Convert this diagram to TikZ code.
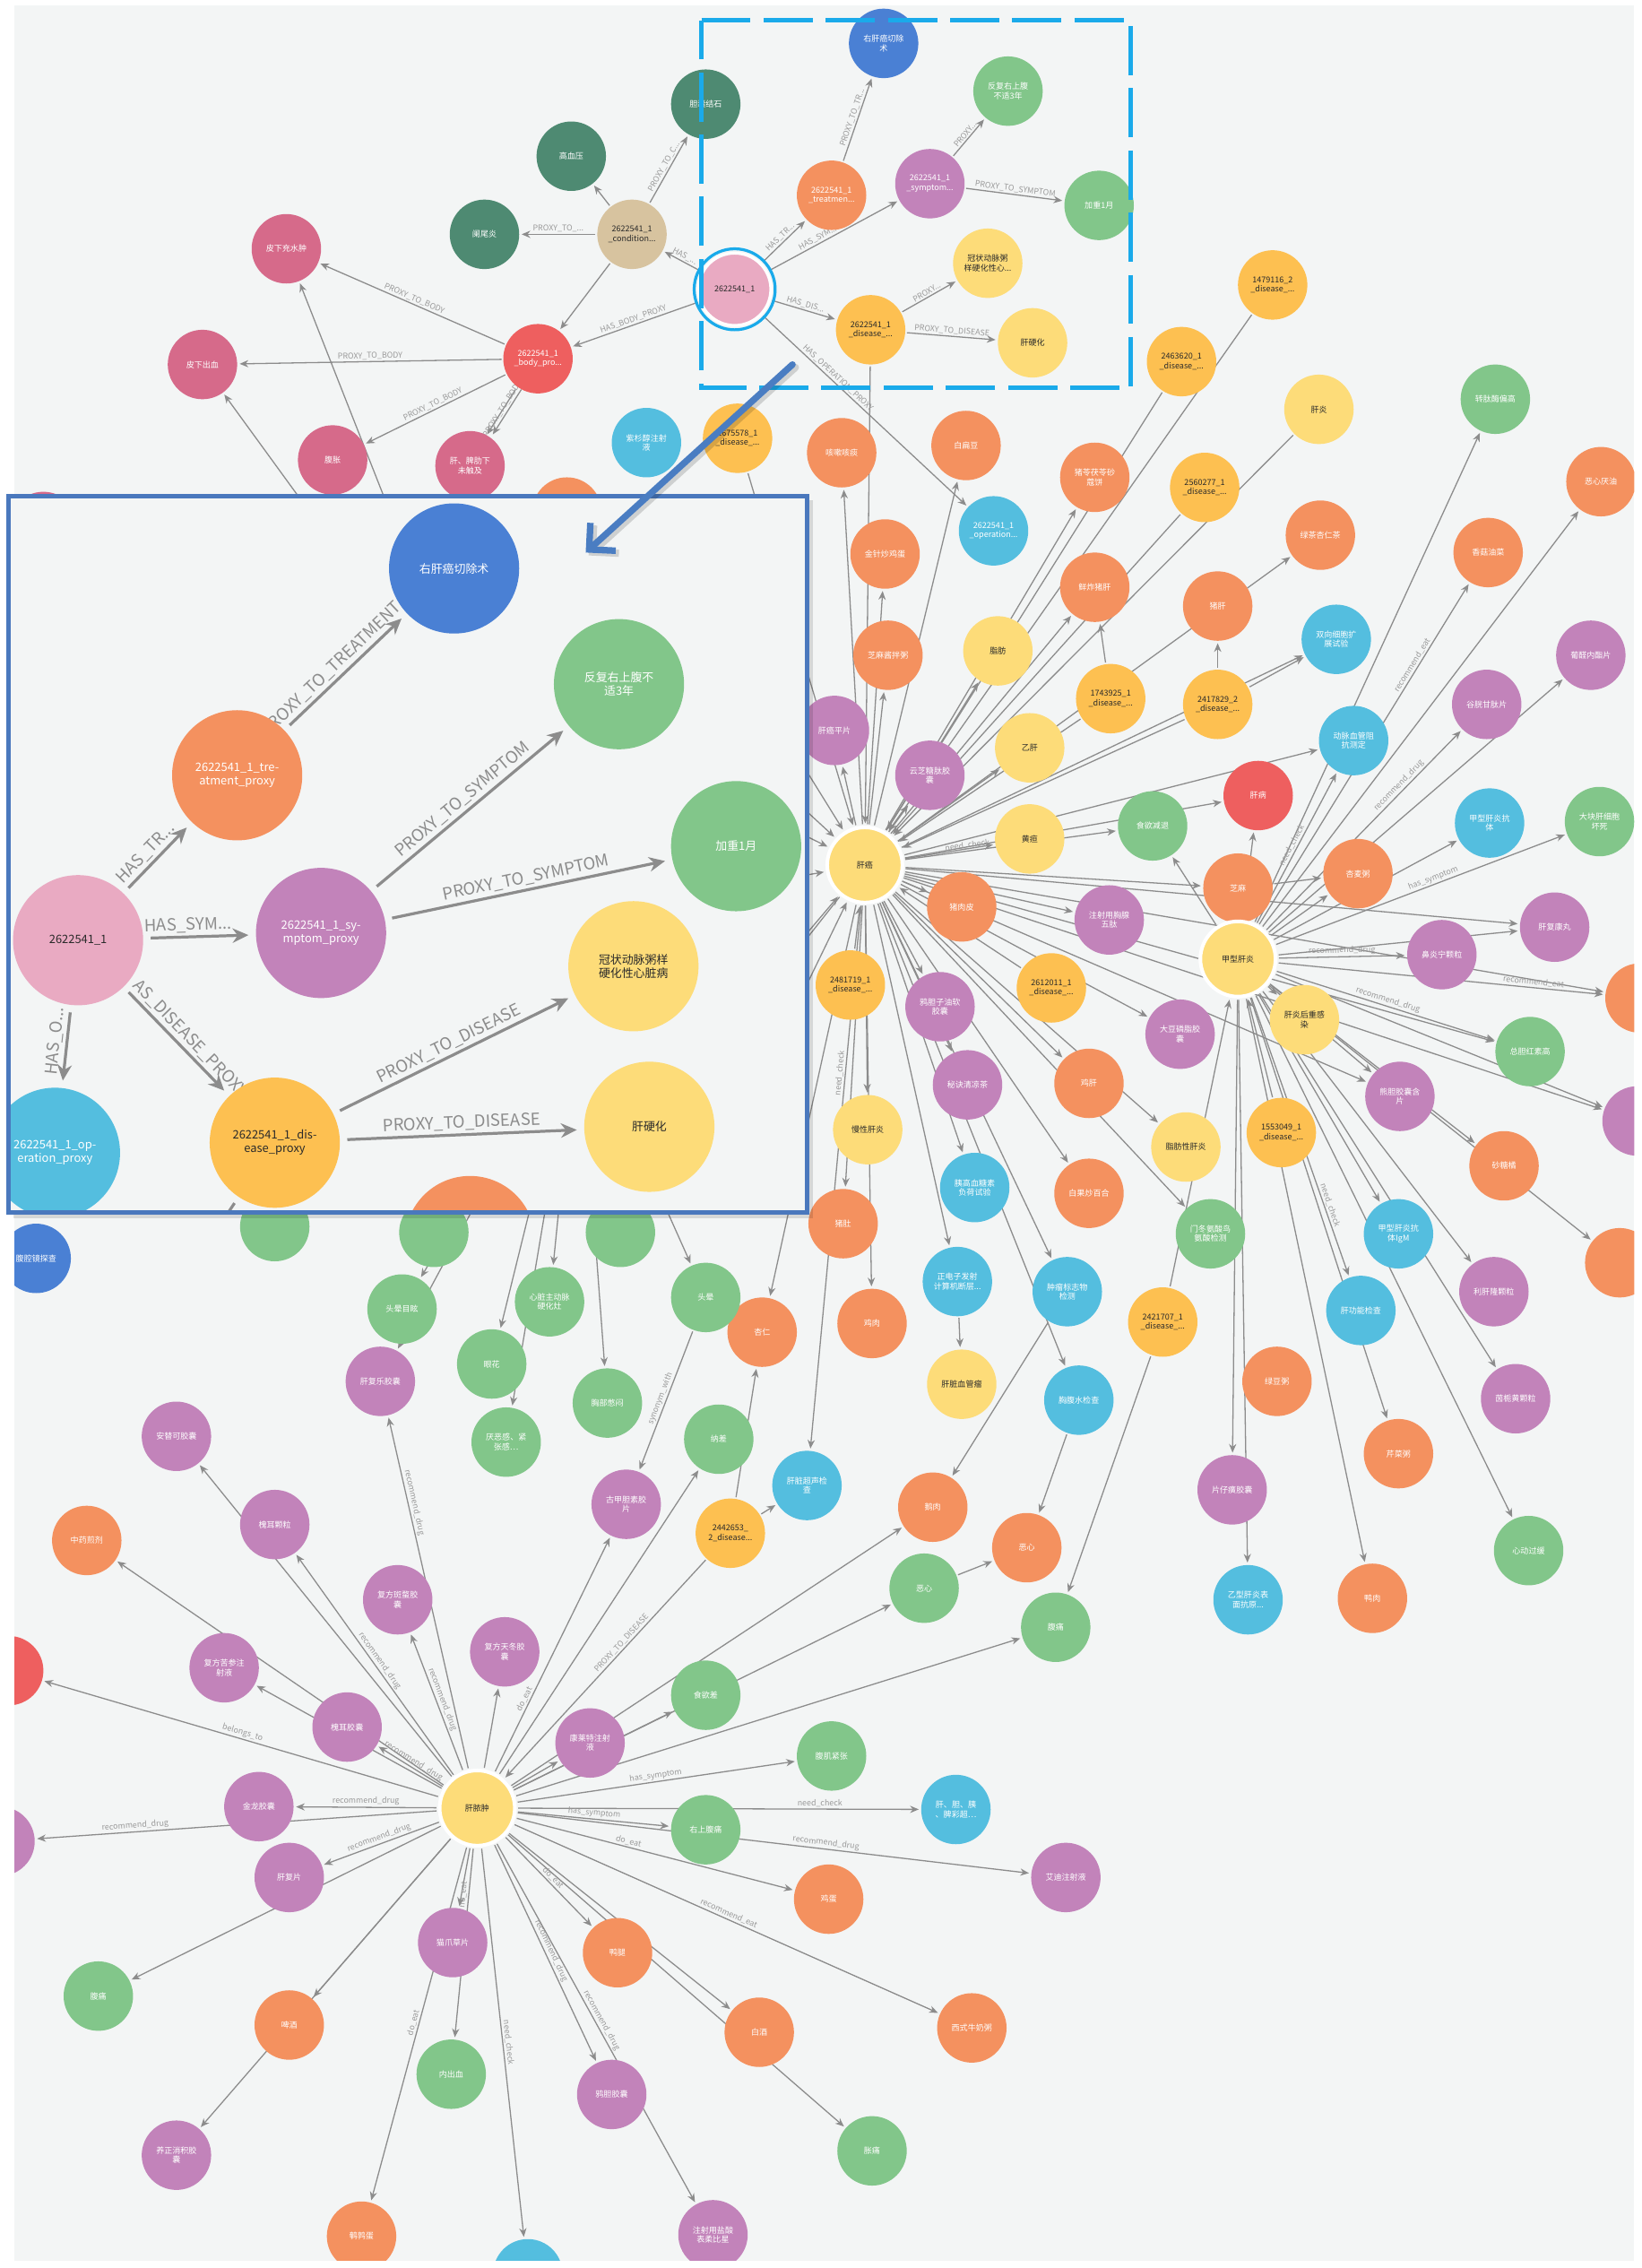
\documentclass[tikz,border=0pt]{standalone}
\usepackage{fontspec}
\setmainfont{Noto Sans CJK SC}
\usetikzlibrary{arrows.meta}
\pgfdeclarelayer{bglayer}
\pgfdeclarelayer{edgelayer}
\pgfdeclarelayer{insetlayer}
\pgfdeclarelayer{insetedge}
\pgfdeclarelayer{insetnode}
\pgfdeclarelayer{toplayer}
\pgfsetlayers{bglayer,edgelayer,main,insetlayer,insetedge,insetnode,toplayer}
\definecolor{cBg}{HTML}{F3F5F5}
\definecolor{cOr}{HTML}{F4915F}
\definecolor{cGr}{HTML}{82C68A}
\definecolor{cPu}{HTML}{C283BA}
\definecolor{cYe}{HTML}{FDDC79}
\definecolor{cAm}{HTML}{FDC051}
\definecolor{cBl}{HTML}{4A80D4}
\definecolor{cCy}{HTML}{54BEDF}
\definecolor{cRd}{HTML}{EE5F5F}
\definecolor{cDg}{HTML}{4E8A72}
\definecolor{cTn}{HTML}{D7C39F}
\definecolor{cPk}{HTML}{E9AAC2}
\definecolor{cDp}{HTML}{D66A8A}
\definecolor{cEd}{HTML}{8C8C8C}
\definecolor{cLb}{HTML}{9A9A9A}
\definecolor{cDash}{HTML}{1AAAEA}
\definecolor{cInB}{HTML}{4A78BD}
\definecolor{cBig}{HTML}{4A7DC2}
\definecolor{cTx}{HTML}{2A2A2A}
\begin{document}
\begin{tikzpicture}[x=1pt,y=-1pt,
  nd/.style={circle,inner sep=0pt,minimum size=48pt,align=center,font=\fontsize{5.6}{6.4}\selectfont},
  nOr/.style={nd,fill=cOr,text=white},
  nGr/.style={nd,fill=cGr,text=white},
  nPu/.style={nd,fill=cPu,text=white},
  nYe/.style={nd,fill=cYe,text=cTx},
  nAm/.style={nd,fill=cAm,text=cTx},
  nBl/.style={nd,fill=cBl,text=white},
  nCy/.style={nd,fill=cCy,text=white},
  nRd/.style={nd,fill=cRd,text=white},
  nDg/.style={nd,fill=cDg,text=white},
  nTn/.style={nd,fill=cTn,text=cTx},
  nPk/.style={nd,fill=cPk,text=cTx},
  nDp/.style={nd,fill=cDp,text=white},
  hub/.style={nd,minimum size=52pt,fill=cYe,text=cTx,draw=white,line width=2.5pt},
  ed/.style={draw=cEd,line width=0.8pt,shorten >=1.5pt,shorten <=1pt,-{Stealth[length=6pt,width=5pt]}},
  el/.style={sloped,above,inner sep=1pt,font=\fontsize{5.5}{6}\selectfont,text=cLb},
  ind/.style={circle,inner sep=0pt,minimum size=90pt,align=center,font=\fontsize{8}{9.2}\selectfont},
  ied/.style={draw=cEd,line width=2pt,shorten >=5pt,shorten <=5pt,-{Stealth[length=11pt,width=10pt]}},
  iel/.style={sloped,above,inner sep=2pt,font=\fontsize{11.5}{12}\selectfont,text=cEd}
]
\useasboundingbox (0,0) rectangle (1135,1568);
\begin{pgfonlayer}{bglayer}
\fill[white] (0,0) rectangle (1135,1568);
\fill[cBg] (10,4) rectangle (1130,1563);
\end{pgfonlayer}

% ---------------- main graph nodes ----------------
\begin{scope}
\clip (10,4) rectangle (1130,1563);
% top-left cluster
\node[nDg] (dg1) at (488,72) {胆囊结石};
\node[nDg] (dg2) at (395,108) {高血压};
\node[nDg] (dg3) at (335,162) {阑尾炎};
\node[nTn] (cond) at (437,162) {2622541\_1\\\_condition...};
\node[nDp] (dp1) at (198,172) {皮下充水肿};
\node[nDp] (dp2) at (140,252) {皮下出血};
\node[nRd] (body) at (372,248) {2622541\_1\\\_body\_pro...};
\node[nDp] (dp3) at (230,318) {腹胀};
\node[nDp] (dp4) at (325,322) {肝、脾肋下\\未触及};
\node[nDp] (dp5) at (30,364) {};
\node[nOr] (or0) at (392,354) {};
\node[nCy] (cy0) at (447,306) {紫杉醇注射\\液};
\node[nAm] (am0) at (510,303) {2675578\_1\\\_disease\_...};
% dashed-box cluster
\node[nBl] (blT) at (611,30) {右肝癌切除\\术};
\node[nGr] (grA) at (697,63) {反复右上腹\\不适3年};
\node[nOr] (orT) at (575,135) {2622541\_1\\\_treatmen...};
\node[nPu] (puS) at (643,127) {2622541\_1\\\_symptom...};
\node[nGr] (grB) at (760,142) {加重1月};
\node[nPk,draw=white,line width=2pt,minimum size=50pt] (pk) at (508,200) {2622541\_1};
\draw[cDash,line width=2pt] (pk.center) circle (28pt);
\node[nYe] (yeC) at (683,182) {冠状动脉粥\\样硬化性心...};
\node[nAm] (amD) at (602,228) {2622541\_1\\\_disease\_...};
\node[nYe] (yeH) at (714,237) {肝硬化};
% upper right
\node[nAm] (amE) at (817,250) {2463620\_1\\\_disease\_...};
\node[nAm] (amF) at (880,197) {1479116\_2\\\_disease\_...};
\node[nYe] (yeG) at (912,283) {肝炎};
\node[nAm] (amG) at (833,337) {2560277\_1\\\_disease\_...};
\node[nGr] (grZ) at (1034,276) {转肽酶偏高};
\node[nOr] (orE) at (1107,333) {恶心厌油};
\node[nOr] (or1) at (582,313) {咳嗽咳痰};
\node[nOr] (or2) at (668,308) {白扁豆};
\node[nCy] (cyOp) at (687,367) {2622541\_1\\\_operation...};
\node[nOr] (or3) at (757,330) {猪苓茯苓砂\\蔻饼};
\node[nOr] (or4) at (612,383) {金针炒鸡蛋};
\node[nOr] (or5) at (757,406) {鲜炸猪肝};
\node[nOr] (or6) at (913,370) {绿茶杏仁茶};
\node[nOr] (or7) at (1029,382) {香菇油菜};
\node[nOr] (or8) at (842,419) {猪肝};
\node[nOr] (or9) at (614,453) {芝麻酱拌粥};
\node[nYe] (ye1) at (690,450) {脂肪};
\node[nCy] (cy1) at (924,442) {双向细胞扩\\展试验};
\node[nPu] (pu1) at (1100,453) {葡醛内酯片};
\node[nAm] (am1) at (768,483) {1743925\_1\\\_disease\_...};
\node[nAm] (am2) at (842,487) {2417829\_2\\\_disease\_...};
\node[nPu] (pu2) at (1028,487) {谷胱甘肽片};
\node[nPu] (pu3) at (577,505) {肝癌平片};
\node[nPu] (pu4) at (643,536) {云芝糖肽胶\\囊};
\node[nYe] (ye2) at (712,517) {乙肝};
\node[nCy] (cy2) at (936,512) {动脉血管阻\\抗测定};
\node[nRd] (rd1) at (870,550) {肝病};
\node[nGr] (gr1) at (1106,568) {大块肝细胞\\坏死};
\node[nOr] (or10) at (856,614) {芝麻};
\node[nOr] (or11) at (939,604) {杏麦粥};
\node[nCy] (cy3) at (1030,569) {甲型肝炎抗\\体};
\node[nGr] (gr2) at (797,571) {食欲减退};
\node[nYe] (ye3) at (712,580) {黄疸};
\node[hub] (hub1) at (598,598) {肝癌};
\node[nPu] (pu5) at (1075,641) {肝复康丸};
\node[nPu] (pu6) at (997,660) {鼻炎宁颗粒};
\node[nOr] (or12) at (665,627) {猪肉皮};
\node[nPu] (pu7) at (767,636) {注射用胸腺\\五肽};
\node[hub] (hub2) at (856,663) {甲型肝炎};
\node[nYe] (ye4) at (902,705) {肝炎后重感\\染};
\node[nAm] (am3) at (588,681) {2481719\_1\\\_disease\_...};
\node[nAm] (am4) at (727,683) {2612011\_1\\\_disease\_...};
\node[nPu] (pu8) at (650,696) {鸦胆子油软\\胶囊};
\node[nPu] (pu9) at (816,715) {大豆磷脂胶\\囊};
\node[nGr] (gr3) at (1058,727) {总胆红素高};
\node[nPu] (pu10) at (968,758) {熊胆胶囊含\\片};
\node[nPu] (pu11) at (1132,775) {};
\node[nOr] (or13) at (1134,690) {};
\node[nPu] (pu12) at (669,750) {秘诀清凉茶};
\node[nOr] (or14) at (753,749) {鸡肝};
\node[nYe] (ye5) at (600,781) {慢性肝炎};
\node[nYe] (ye6) at (820,793) {脂肪性肝炎};
\node[nAm] (am5) at (886,783) {1553049\_1\\\_disease\_...};
\node[nOr] (or15) at (1040,806) {砂糖橘};
\node[nCy] (cy4) at (674,821) {胰高血糖素\\负荷试验};
\node[nOr] (or16) at (753,825) {白果炒百合};
\node[nOr] (or17) at (583,846) {猪肚};
\node[nCy] (cy5) at (967,853) {甲型肝炎抗\\体IgM};
\node[nGr] (gr4) at (837,853) {门冬氨酸鸟\\氨酸检测};
\node[nOr] (or18) at (1120,873) {};
\node[nPu] (pu13) at (1033,893) {利肝隆颗粒};
\node[nCy] (cy6) at (662,886) {正电子发射\\计算机断层...};
\node[nCy] (cy7) at (738,893) {肿瘤标志物\\检测};
\node[nAm] (am6) at (804,914) {2421707\_1\\\_disease\_...};
\node[nOr] (or19) at (603,915) {鸡肉};
\node[nOr] (or20) at (527,921) {杏仁};
\node[nGr] (gr5) at (488,897) {头晕};
\node[nCy] (cy8) at (941,906) {肝功能检查};
\node[nYe] (ye7) at (665,957) {肝脏血管瘤};
\node[nCy] (cy9) at (746,968) {胸腹水检查};
\node[nOr] (or21) at (883,955) {绿豆粥};
\node[nPu] (pu14) at (1048,967) {茵栀黄颗粒};
\node[nOr] (or22) at (967,1005) {芹菜粥};
\node[nPu] (pu15) at (852,1030) {片仔癀胶囊};
\node[nGr] (gr6) at (1057,1072) {心动过缓};
\node[nCy] (cy10) at (863,1106) {乙型肝炎表\\面抗原...};
\node[nOr] (or23) at (949,1105) {鸭肉};
\node[nOr] (or24) at (645,1042) {鹅肉};
\node[nOr] (or25) at (710,1070) {恶心};
\node[nGr] (gr7) at (639,1098) {恶心};
\node[nGr] (gr8) at (730,1125) {腹痛};
\node[nCy] (cy11) at (558,1027) {肝脏超声检\\查};
\node[nAm] (am7) at (505,1060) {2442653\_\\2\_disease...};
\node[nGr] (gr9) at (497,995) {纳差};
\node[nPu] (pu16) at (433,1040) {古甲胆素胶\\片};
\node[nGr] (gr10) at (420,970) {胸部憋闷};
\node[nGr] (gr11) at (429,852) {};
\node[nGr] (gr12) at (380,900) {心脏主动脉\\硬化灶};
\node[nGr] (gr13) at (278,905) {头晕目眩};
\node[nGr] (gr14) at (340,943) {眼花};
\node[nGr] (gr15) at (350,997) {厌恶感、紧\\张感…};
\node[nGr] (gr16) at (300,852) {};
\node[nGr] (gr17) at (190,848) {};
\node[nBl] (bl2) at (25,870) {腹腔镜探查};
\node[nPu] (pu17) at (263,955) {肝复乐胶囊};
\node[nPu] (pu18) at (122,993) {安替可胶囊};
\node[nPu] (pu19) at (190,1054) {槐耳颗粒};
\node[nOr] (or26) at (60,1065) {中药煎剂};
\node[nPu] (pu20) at (275,1106) {复方斑蝥胶\\囊};
\node[nPu] (pu21) at (349,1142) {复方天冬胶\\囊};
\node[nPu] (pu22) at (155,1153) {复方苦参注\\射液};
\node[nRd] (rd2) at (6,1155) {};
\node[nPu] (pu23) at (240,1194) {槐耳胶囊};
\node[hub] (hub3) at (330,1250) {肝脓肿};
\node[nPu] (pu24) at (408,1205) {康莱特注射\\液};
\node[nGr] (gr18) at (488,1172) {食欲差};
\node[nGr] (gr19) at (575,1214) {腹肌紧张};
\node[nGr] (gr20) at (488,1265) {右上腹痛};
\node[nCy] (cy12) at (661,1251) {肝、胆、胰\\、脾彩超…};
\node[nPu] (pu25) at (737,1298) {艾迪注射液};
\node[nOr] (or27) at (573,1313) {鸡蛋};
\node[nPu] (pu26) at (179,1249) {金龙胶囊};
\node[nPu] (pu27) at (0,1273) {};
\node[nPu] (pu28) at (200,1298) {肝复片};
\node[nPu] (pu29) at (313,1343) {猫爪草片};
\node[nOr] (or28) at (427,1350) {鸭腿};
\node[nGr] (gr21) at (68,1380) {腹痛};
\node[nOr] (or29) at (200,1400) {啤酒};
\node[nOr] (or30) at (525,1405) {白酒};
\node[nOr] (or31) at (672,1402) {西式牛奶粥};
\node[nGr] (gr22) at (312,1434) {内出血};
\node[nPu] (pu30) at (423,1448) {鸦胆胶囊};
\node[nPu] (pu31) at (122,1490) {养正消积胶\\囊};
\node[nGr] (gr23) at (603,1487) {胀痛};
\node[nOr] (or32) at (250,1546) {鹌鹑蛋};
\node[nCy] (cy13) at (365,1572) {};
\node[nPu] (pu32) at (493,1545) {注射用盐酸\\表柔比星};
\end{scope}
% hidden sources behind the inset
\coordinate (hid1) at (335,520);
\coordinate (hidB) at (400,700);
\coordinate (hA) at (470,480);
\coordinate (hB) at (470,620);
\coordinate (hC) at (470,760);
\coordinate (hD) at (480,540);
\coordinate (hE) at (500,440);
\coordinate (hF) at (520,690);
\coordinate (hG) at (500,800);

% ---------------- main graph edges ----------------
\begin{pgfonlayer}{edgelayer}
\begin{scope}
\clip (10,4) rectangle (1130,1563);
\draw[ed] (pk) -- node[el]{HAS\_...} (cond);
\draw[ed] (cond) -- node[el]{PROXY\_TO\_...} (dg3);
\draw[ed] (cond) -- (dg2);
\draw[ed] (cond) -- node[el]{PROXY\_TO\_C...} (dg1);
\draw[ed] (cond) -- (body);
\draw[ed] (pk) -- node[el]{HAS\_BODY\_PROXY} (body);
\draw[ed] (body) -- node[el]{PROXY\_TO\_BODY} (dp1);
\draw[ed] (body) -- node[el]{PROXY\_TO\_BODY} (dp2);
\draw[ed] (body) -- node[el]{PROXY\_TO\_BODY} (dp3);
\draw[ed,transform canvas={xshift=-2pt}] (body) -- (dp4);
\draw[ed,transform canvas={xshift=2pt}] (body) -- node[el]{PROXY\_TO\_BODY} (dp4);
\draw[ed] (hid1) -- (dp1);
\draw[ed] (hid1) -- (dp2);
\draw[ed] (pk) -- node[el]{HAS\_TR...} (orT);
\draw[ed] (pk) -- node[el,pos=0.4]{HAS\_SYM...} (puS);
\draw[ed] (orT) -- node[el]{PROXY\_TO\_TR...} (blT);
\draw[ed] (puS) -- node[el]{PROXY...} (grA);
\draw[ed] (puS) -- node[el]{PROXY\_TO\_SYMPTOM} (grB);
\draw[ed] (pk) -- node[el]{HAS\_DIS...} (amD);
\draw[ed] (amD) -- node[el]{PROXY...} (yeC);
\draw[ed] (amD) -- node[el]{PROXY\_TO\_DISEASE} (yeH);
\draw[ed] (pk) -- node[el,pos=0.35]{HAS\_OPERATION\_PROXY} (cyOp);
\draw[ed] (amD) -- (hub1);
% disease proxies into 肝癌
\foreach \s in {am0,amE,amF,amG,yeG,am1,am2,am3,am4,hA,hB,hD,hE,hF,hG}
  \draw[ed] (\s) -- (hub1);
\draw[ed] (hub1) -- (hC);
\draw[ed] (am1) -- (or5);
\draw[ed] (am2) -- (or8);
\draw[ed] (am2) -- (cy1);
\draw[ed] (or10) -- (or11);
% 肝癌 outgoing
\foreach \t in {or1,or2,or3,or4,or9,ye1,ye2,ye3,pu3,pu4,or12,pu7,pu8,or14,pu12,ye5,cy4,or16,or17,cy6,cy7,or19,cy9,or20,rd1,or10,or6,or5,cy2,pu9,ye6,gr4,pu5,or13,pu11,gr3,pu10,cy1}
  \draw[ed] (hub1) -- (\t);
\draw[ed] (hub1) -- node[el,pos=0.3]{need\_check} (gr2);
\draw[ed] (hub1) -- node[el,pos=0.31]{need\_check} (cy11);
% 甲型肝炎 outgoing
\foreach \t in {grZ,orE,pu1,cy3,pu5,pu10,pu11,or15,pu13,cy5,pu14,or22,pu15,cy10,or23,gr6,or18,or11,ye4,gr2,rd1,or10}
  \draw[ed] (hub2) -- (\t);
\draw[ed] (hub2) -- node[el,pos=0.75]{recommend\_eat} (or7);
\draw[ed] (hub2) -- node[el,pos=0.7]{recommend\_drug} (pu2);
\draw[ed] (hub2) -- node[el,pos=0.55]{has\_symptom} (gr1);
\draw[ed] (hub2) -- node[el,pos=0.5]{recommend\_drug} (pu6);
\draw[ed] (hub2) -- node[el,pos=0.78]{recommend\_eat} (or13);
\draw[ed] (hub2) -- node[el,pos=0.5]{recommend\_drug} (gr3);
\draw[ed] (hub2) -- node[el,pos=0.75]{need\_check} (cy8);
\draw[ed] (hub2) -- node[el,pos=0.5]{need\_check} (cy2);
\draw[ed] (am5) -- (hub2);
\draw[ed] (am6) -- (hub2);
% lower middle
\draw[ed] (cy6) -- (ye7);
\draw[ed] (cy7) -- (or24);
\draw[ed] (cy9) -- (or25);
\draw[ed] (am6) -- (gr8);
\draw[ed] (gr7) -- (or25);
\draw[ed] (am7) -- (or20);
\draw[ed] (am7) -- (cy11);
\draw[ed] (gr5) -- node[el]{synonym\_with} (pu16);
\foreach \t in {gr13,gr14,gr15,gr12,gr10,pu17,gr5,gr16,gr17,gr11}
  \draw[ed] (hidB) -- (\t);
% 肝脓肿 edges
\draw[ed] (am7) -- node[el,pos=0.4]{PROXY\_TO\_DISEASE} (hub3);
\foreach \t in {pu21,pu18,or26,gr21,or29,pu31,pu29,gr23,pu24,gr9,or24,gr7,gr8,pu22,or30,gr18}
  \draw[ed] (hub3) -- (\t);
\foreach \t/\l/\p in {pu20/recommend\_drug/0.5, pu23/recommend\_drug/0.5, pu19/recommend\_drug/0.5, rd2/belongs\_to/0.5, pu17/recommend\_drug/0.75, pu26/recommend\_drug/0.5, pu27/recommend\_drug/0.75, pu28/recommend\_drug/0.5, gr22/no\_eat/0.25, or32/do\_eat/0.5, cy13/need\_check/0.5, pu30/recommend\_drug/0.5, pu32/recommend\_drug/0.5, or28/do\_eat/0.5, or31/recommend\_eat/0.5, or27/do\_eat/0.4, pu25/recommend\_drug/0.6, cy12/need\_check/0.75, gr20/has\_symptom/0.5, gr19/has\_symptom/0.5, pu16/do\_eat/0.3}
  \draw[ed] (hub3) -- node[el,pos=\p]{\l} (\t);
\end{scope}
\end{pgfonlayer}

% ---------------- inset ----------------
\begin{pgfonlayer}{insetlayer}
\fill[black,opacity=0.12] (9,346) rectangle (562,842);
\fill[cBg] (6,343) rectangle (558,838);
\end{pgfonlayer}
\begin{pgfonlayer}{insetnode}
\begin{scope}
\clip (6,343) rectangle (558,838);
\node[ind,fill=cBl,text=white] (iBl) at (314,393) {右肝癌切除术};
\node[ind,fill=cGr,text=white] (iGrA) at (428,473) {反复右上腹不\\适3年};
\node[ind,fill=cOr,text=white] (iOr) at (164,536) {2622541\_1\_tre-\\atment\_proxy};
\node[ind,fill=cGr,text=white] (iGrB) at (509,585) {加重1月};
\node[ind,fill=cPk,text=cTx] (iPk) at (54,650) {2622541\_1};
\node[ind,fill=cPu,text=white] (iPu) at (222,645) {2622541\_1\_sy-\\mptom\_proxy};
\node[ind,fill=cYe,text=cTx] (iYe) at (438,668) {冠状动脉粥样\\硬化性心脏病};
\node[ind,fill=cCy,text=white] (iCy) at (38,797) {2622541\_1\_op-\\eration\_proxy};
\node[ind,fill=cAm,text=cTx] (iAm) at (190,790) {2622541\_1\_dis-\\ease\_proxy};
\node[ind,fill=cYe,text=cTx] (iYeH) at (449,779) {肝硬化};
\node[ind,fill=cOr] (iOr2) at (325,858) {};
\end{scope}
\end{pgfonlayer}
\coordinate (iEnd) at (150,850);
\begin{pgfonlayer}{insetedge}
\begin{scope}
\clip (6,343) rectangle (558,838);
\draw[ied] (iPk) -- node[iel,pos=0.45]{HAS\_TR...} (iOr);
\draw[ied] (iOr) -- node[iel,pos=0.45]{PROXY\_TO\_TREATMENT} (iBl);
\draw[ied] (iPk) -- node[iel,pos=0.4]{HAS\_SYM...} (iPu);
\draw[ied] (iPu) -- node[iel,pos=0.5]{PROXY\_TO\_SYMPTOM} (iGrA);
\draw[ied] (iPu) -- node[iel,pos=0.5]{PROXY\_TO\_SYMPTOM} (iGrB);
\draw[ied] (iPk) -- node[iel,pos=0.55]{AS\_DISEASE\_PROXY} (iAm);
\draw[ied] (iAm) -- node[iel,pos=0.5]{PROXY\_TO\_DISEASE} (iYe);
\draw[ied] (iAm) -- node[iel,pos=0.5]{PROXY\_TO\_DISEASE} (iYeH);
\draw[ied] (iPk) -- node[iel,pos=0.45]{HAS\_O...} (iCy);
\draw[draw=cEd,line width=2pt,shorten <=5pt] (iAm) -- (iEnd);
\end{scope}
\end{pgfonlayer}

% ---------------- overlays ----------------
\coordinate (arS) at (548,252);
\coordinate (arE) at (405,382);
\begin{pgfonlayer}{toplayer}
\draw[cInB,line width=3pt] (6,343) rectangle (558,838);
\draw[cDash,line width=3pt,dash pattern=on 34pt off 9pt] (485,14) -- (782,14) -- (782,268) -- (485,268) -- cycle;
\draw[black,opacity=0.15,line width=5pt,line cap=round,-{Straight Barb[length=13pt,width=26pt,line width=5pt]}] ([shift={(2pt,-2pt)}]arS) -- ([shift={(2pt,-2pt)}]arE);
\draw[cBig,line width=4.5pt,line cap=round,-{Straight Barb[length=13pt,width=26pt,line width=4.5pt]}] (arS) -- (arE);
\end{pgfonlayer}
\end{tikzpicture}
\end{document}
